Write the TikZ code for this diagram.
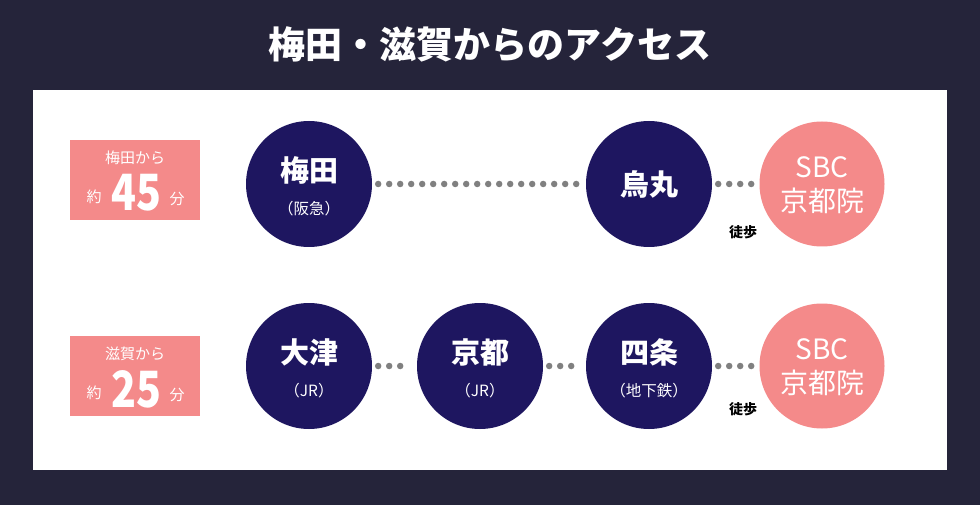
\documentclass[tikz,border=0pt]{standalone}
\usepackage{fontspec}
\setmainfont{Noto Sans CJK JP}
\definecolor{bgc}{HTML}{25243A}
\definecolor{navy}{HTML}{1E1660}
\definecolor{pinkc}{HTML}{F48A8A}
\definecolor{dotc}{HTML}{808080}
\begin{document}
\begin{tikzpicture}[x=1pt,y=-1pt,
 st/.style={circle,fill=navy,minimum size=126pt,inner sep=0pt,text=white,align=center},
 sbc/.style={circle,fill=pinkc,minimum size=125pt,inner sep=0pt,text=white,align=center},
 lbl/.style={fill=pinkc,minimum width=130pt,minimum height=80pt,inner sep=0pt,text=white,align=center},
 dots/.style={draw=dotc,line width=6.5pt,line cap=round,dash pattern=on 0pt off 11pt,shorten >=6pt,shorten <=6pt},
 big/.style={font=\fontsize{29}{30}\selectfont\bfseries},
 sub/.style={font=\fontsize{15.5}{16}\selectfont},
 sbct/.style={text=white,font=\fontsize{28}{30}\selectfont},
 sm/.style={text=white,font=\fontsize{15}{16}\selectfont},
 num/.style={text=white,font=\fontsize{50}{52}\selectfont\bfseries,inner sep=0pt}]
\fill[bgc] (0,0) rectangle (980,505);
\fill[white] (33,90) rectangle (947,470);
\node[text=white,font=\fontsize{37}{40}\selectfont\bfseries] (title) at (490,44) {梅田・滋賀からのアクセス};
% row 1
\node[lbl] (l1) at (135,180) {};
\node[sm] (l1a) at (135,158) {梅田から};
\node[sm] (l1b) at (94,197) {約};
\node[num] (l1c) at (136,193) {\scalebox{0.82}[1]{45}};
\node[sm] (l1d) at (177,199) {分};
\node[st] (umeda) at (309,184) {};
\node[text=white,big] at (309,170) {梅田};
\node[text=white,sub] at (309,209) {（阪急）};
\node[st] (kara) at (649,184) {};
\node[text=white,big] at (649,184) {烏丸};
\node[sbc] (sbc1) at (822,184) {};
\node[sbct] at (822,167) {SBC};
\node[sbct] at (822,201) {京都院};
\node[font=\fontsize{14}{16}\selectfont\bfseries] (w1) at (743,232) {徒歩};
\draw[dots] (umeda.east) -- (kara.west);
\draw[dots] (kara.east) -- (sbc1.west);
% row 2
\node[lbl] (l2) at (135,376) {};
\node[sm] (l2a) at (135,354) {滋賀から};
\node[sm] (l2b) at (94,393) {約};
\node[num] (l2c) at (136,389) {\scalebox{0.82}[1]{25}};
\node[sm] (l2d) at (177,395) {分};
\node[st] (otsu) at (309,366) {};
\node[text=white,big] at (309,352) {大津};
\node[text=white,sub] at (309,391) {（JR）};
\node[st] (kyoto) at (480,366) {};
\node[text=white,big] at (480,352) {京都};
\node[text=white,sub] at (480,391) {（JR）};
\node[st] (shijo) at (649,366) {};
\node[text=white,big] at (649,352) {四条};
\node[text=white,sub] at (649,391) {（地下鉄）};
\node[sbc] (sbc2) at (822,366) {};
\node[sbct] at (822,349) {SBC};
\node[sbct] at (822,383) {京都院};
\node[font=\fontsize{14}{16}\selectfont\bfseries] (w2) at (743,409) {徒歩};
\draw[dots] (otsu.east) -- (kyoto.west);
\draw[dots] (kyoto.east) -- (shijo.west);
\draw[dots] (shijo.east) -- (sbc2.west);
\end{tikzpicture}
\end{document}
